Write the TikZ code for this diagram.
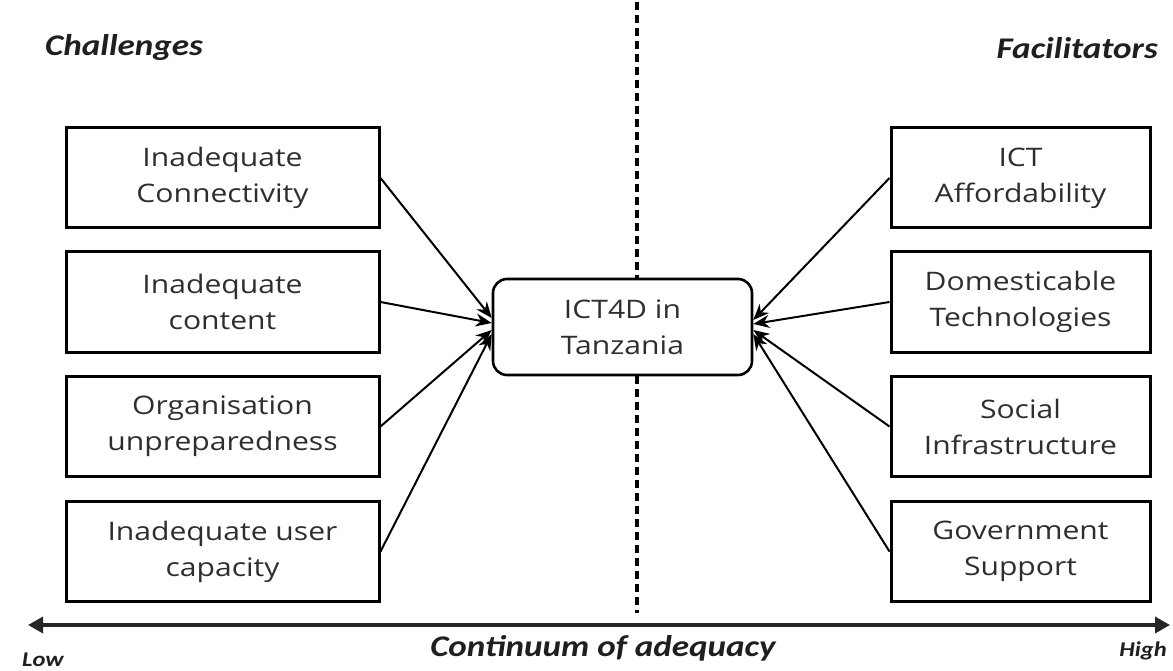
\documentclass[tikz,border=0pt]{standalone}
\usepackage{fontspec}
\setmainfont{Open Sans}[FakeStretch=1.18]
\newfontfamily\headfont{Carlito}[FakeStretch=1.17]
\usetikzlibrary{arrows.meta}

\tikzset{
  factor/.style={draw, line width=3pt, minimum height=100pt, align=center,
    inner sep=0pt, text=black!82, font=\fontsize{25.5}{36}\selectfont},
  leftbox/.style={factor, minimum width=313pt},
  rightbox/.style={factor, minimum width=259pt},
  hub/.style={draw, rounded corners=14pt, line width=2.6pt, minimum width=259pt,
    minimum height=96pt, align=center, inner sep=0pt, text=black!82,
    font=\fontsize{25.5}{36}\selectfont},
  link/.style={line width=2pt, -{Stealth[length=16pt,width=13pt]}},
  divider/.style={line width=3.2pt, dash pattern=on 8pt off 5pt},
  axis/.style={line width=3.4pt, black!85, {Triangle[length=15pt,width=16pt]}-{Triangle[length=15pt,width=16pt]}},
  heading/.style={font=\headfont\bfseries\itshape\fontsize{30}{34}\selectfont, text=black!88, inner sep=0pt},
  endlabel/.style={font=\headfont\bfseries\itshape\fontsize{21}{24}\selectfont, text=black!88, inner sep=0pt}
}

\begin{document}
\begin{tikzpicture}[x=1pt, y=-1pt]
\useasboundingbox (0,0) rectangle (1173,671);

% column headings
\node[heading, anchor=west] (chal) at (45,48) {Challenges};
\node[heading, anchor=east] (faci) at (1158,48) {Facilitators};

% central node
\node[hub] (ict) at (622.5,327) {ICT4D in\\Tanzania};

% challenges (left column)
\node[leftbox] (c1) at (222.5,178)   {Inadequate\\Connectivity};
\node[leftbox] (c2) at (222.5,302)   {Inadequate\\content};
\node[leftbox] (c3) at (222.5,426.5) {Organisation\\unpreparedness};
\node[leftbox] (c4) at (222.5,551.5) {Inadequate user\\capacity};

% facilitators (right column)
\node[rightbox] (f1) at (1020.5,178)   {ICT\\Affordability};
\node[rightbox] (f2) at (1020.5,302)   {Domesticable\\Technologies};
\node[rightbox] (f3) at (1020.5,426.5) {Social\\Infrastructure};
\node[rightbox] (f4) at (1020.5,551.5) {Government\\Support};

% links into the central node
\draw[link] (c1.east) -- ([yshift=9pt]ict.west);
\draw[link] (c2.east) -- ([yshift=4pt]ict.west);
\draw[link] (c3.east) -- ([yshift=-3pt]ict.west);
\draw[link] (c4.east) -- ([yshift=-7pt]ict.west);
\draw[link] (f1.west) -- ([yshift=7pt]ict.east);
\draw[link] (f2.west) -- ([yshift=3pt]ict.east);
\draw[link] (f3.west) -- ([yshift=-3pt]ict.east);
\draw[link] (f4.west) -- ([yshift=-7pt]ict.east);

% dashed divider between the two columns
\coordinate (dtop) at (637,2);
\coordinate (dbot) at (637,613);
\draw[divider] (dtop) -- (dtop |- ict.north);
\draw[divider] (dbot |- ict.south) -- (dbot);

% continuum axis
\coordinate (lo) at (28,625);
\coordinate (hi) at (1170,625);
\draw[axis] (lo) -- (hi);
\node[heading] (cont) at (603,648) {Continuum of adequacy};
\node[endlabel] (low) at (43,660) {Low};
\node[endlabel] (high) at (1143,651) {High};
\end{tikzpicture}
\end{document}
